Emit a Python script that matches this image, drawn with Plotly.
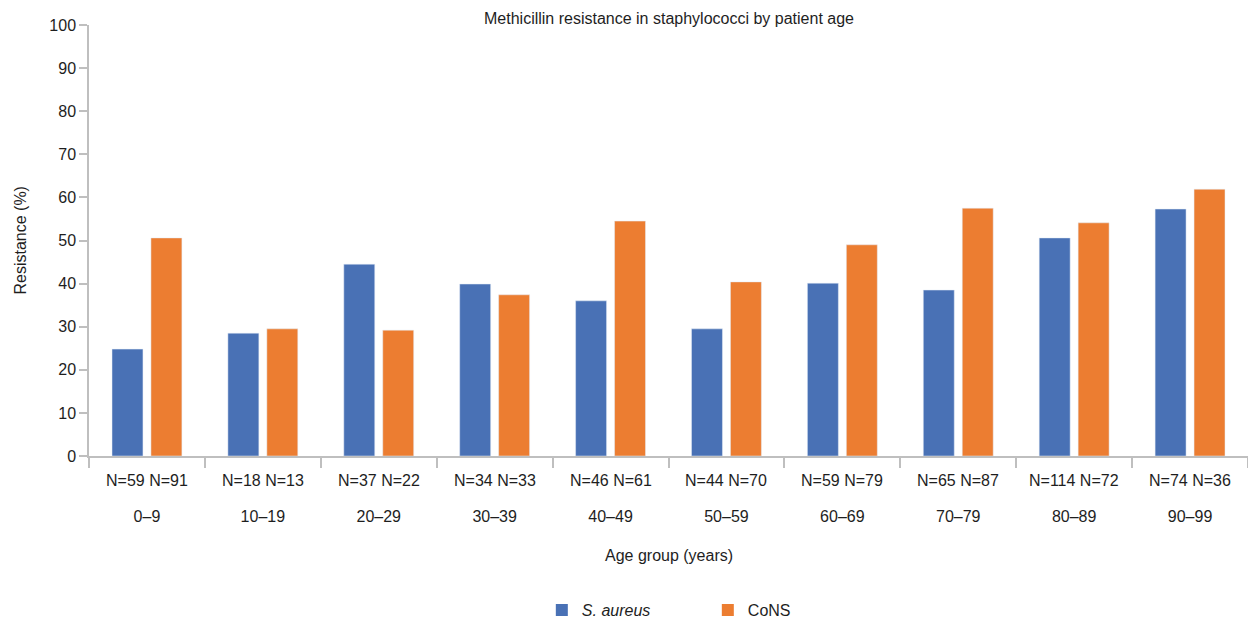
import plotly.graph_objects as go

age_groups = ["0–9", "10–19", "20–29", "30–39", "40–49", "50–59", "60–69", "70–79", "80–89", "90–99"]
n_aureus = [59, 18, 37, 34, 46, 44, 59, 65, 114, 74]
n_cons = [91, 13, 22, 33, 61, 70, 79, 87, 72, 36]
res_aureus = [24.8, 28.5, 44.5, 39.9, 36.0, 29.5, 40.1, 38.5, 50.6, 57.3]
res_cons = [50.6, 29.5, 29.2, 37.4, 54.5, 40.4, 49.0, 57.5, 54.1, 61.9]
series_names = ["<i>S. aureus</i>", "CoNS"]
series_colors = ["#4971B5", "#EC7D31"]

FONT = "Liberation Sans, Arial, sans-serif"
fig = go.Figure()
for vals, name, col in zip([res_aureus, res_cons], series_names, series_colors):
    fig.add_trace(go.Bar(x=age_groups, y=vals, name=name, marker_color=col, showlegend=False))
# legend entries with larger square swatches
for name, col in zip(series_names, series_colors):
    fig.add_trace(go.Scatter(x=[None], y=[None], mode="markers", name=name,
                             marker=dict(symbol="square", size=16, color=col)))

annotations = [
    dict(text="Methicillin resistance in staphylococci by patient age", xref="paper", yref="paper",
         x=0.5, y=1.014, xanchor="center", yanchor="middle", showarrow=False, font=dict(size=16)),
    dict(text="Resistance (%)", xref="paper", yref="paper", x=-0.0595, y=0.5, textangle=-90,
         xanchor="center", yanchor="middle", showarrow=False, font=dict(size=16)),
    dict(text="Age group (years)", xref="paper", yref="paper", x=0.5, y=-0.2297,
         xanchor="center", yanchor="middle", showarrow=False, font=dict(size=16)),
]
for g, a, c in zip(age_groups, n_aureus, n_cons):
    annotations.append(dict(text=f"N={a} N={c}", x=g, xref="x", yref="paper", y=-0.058,
                            xanchor="center", yanchor="middle", showarrow=False, font=dict(size=16)))

fig.update_layout(
    width=1248, height=620,
    margin=dict(l=89, r=0, t=25, b=164, autoexpand=False),
    plot_bgcolor="white", paper_bgcolor="white",
    font=dict(family=FONT, size=16, color="#1e1e1e"),
    barmode="group", bargap=0.328, bargroupgap=0.205,
    showlegend=True,
    legend=dict(orientation="h", x=0.3907, xanchor="left", yref="container", y=10 / 620, yanchor="middle",
                font=dict(size=16), entrywidth=121, itemsizing="constant"),
    annotations=annotations,
)
fig.update_xaxes(tickvals=age_groups, ticktext=age_groups, tickson="boundaries", ticks="outside",
                 ticklen=10, tickcolor="#BFBFBF", tickwidth=1.5, automargin=False, ticklabelstandoff=45,
                 tickfont=dict(size=16),
                 showline=True, linecolor="#BFBFBF", linewidth=1.5, showgrid=False)
fig.update_yaxes(range=[0, 100], dtick=10, ticks="outside", ticklen=8, tickcolor="#BFBFBF", tickwidth=1.5,
                 automargin=False, tickfont=dict(size=16),
                 showline=True, linecolor="#BFBFBF", linewidth=1.5, showgrid=False, zeroline=False)

fig.write_html("out.html", config={"displayModeBar": False},
               post_script="document.body.style.margin='0';")
